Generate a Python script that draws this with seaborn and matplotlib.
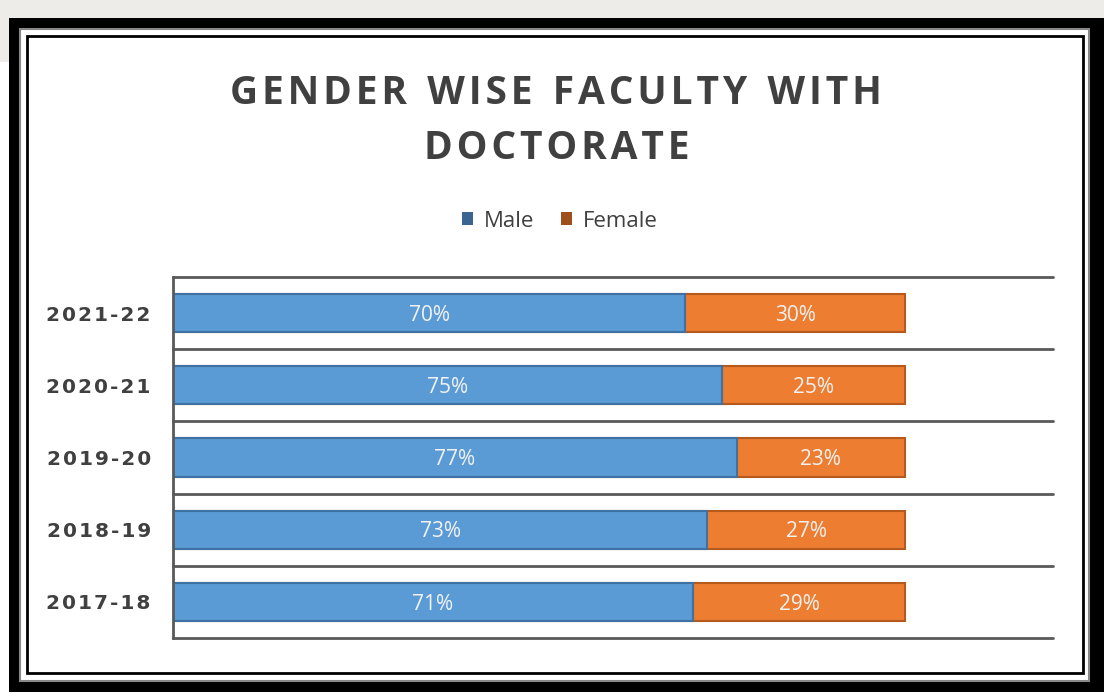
import matplotlib
matplotlib.use('Agg')
import matplotlib.pyplot as plt
import seaborn as sns
import pandas as pd
from matplotlib.patches import Rectangle, Patch

# ── Data ────────────────────────────────────────────────────────────────────
years  = ['2021-22', '2020-21', '2019-20', '2018-19', '2017-18']
male   = [70, 75, 77, 73, 71]
female = [30, 25, 23, 27, 29]

BLUE, ORANGE = '#5b9bd5', '#ed7d31'
W, H = 1104, 697
HAIR = '\u200a'

df = pd.DataFrame({'year': years, 'male': male, 'female': female})
df['total'] = df['male'] + df['female']

sns.set_theme(style='white')
plt.rcParams['font.family'] = ['Open Sans', 'DejaVu Sans']

fig = plt.figure(figsize=(W / 100, H / 100), dpi=100)


def px_rect(x0, y0, x1, y1, **kw):
    # rectangle given in pixel coords (top-left origin)
    r = Rectangle((x0 / W, 1 - y1 / H), (x1 - x0) / W, (y1 - y0) / H,
                  transform=fig.transFigure, zorder=-10, **kw)
    fig.add_artist(r)


def spaced(s, sep=HAIR):
    return sep.join(s)


# ── Frame ───────────────────────────────────────────────────────────────────
px_rect(0, 0, W, 18, facecolor='#eeece8', edgecolor='none')
px_rect(0, 0, 9, 62, facecolor='#eeece8', edgecolor='none')
px_rect(9, 18, W, 692, facecolor='black', edgecolor='none')
px_rect(20, 29, 1089, 681, facecolor='white', edgecolor='#888888', linewidth=1.5)
px_rect(27, 36, 1083, 673, facecolor='white', edgecolor='black', linewidth=2)

# ── Bars ────────────────────────────────────────────────────────────────────
ax = fig.add_axes([173 / W, 1 - 638 / H, 880 / W, 361 / H])
ax.set_facecolor('none')

sns.barplot(data=df, x='total', y='year', orient='h', color=ORANGE,
            saturation=1, width=0.53, edgecolor='#b5591c', linewidth=1.5, ax=ax)
sns.barplot(data=df, x='male', y='year', orient='h', color=BLUE,
            saturation=1, width=0.53, edgecolor='#3f72a3', linewidth=1.5, ax=ax)

for i, (m, f) in enumerate(zip(male, female)):
    ax.text(m / 2, i + 0.03, f'{m}%', ha='center', va='center',
            color='#f2f2f2', fontsize=15)
    ax.text(m + f / 2, i + 0.03, f'{f}%', ha='center', va='center',
            color='#f2f2f2', fontsize=15)

ax.set_xlim(0, 120.2)
ax.set_ylim(len(years) - 0.5, -0.5)
for b in [i - 0.5 for i in range(len(years) + 1)]:
    ax.axhline(b, color='#595959', linewidth=2, zorder=0, clip_on=False)

ax.set_xticks([])
ax.set_xlabel('')
ax.set_ylabel('')
ax.set_yticks(range(len(years)))
ax.set_yticklabels([spaced(y) for y in years])
ax.tick_params(axis='y', length=0, pad=16)
for lbl in ax.get_yticklabels():
    lbl.set_fontfamily(['DejaVu Sans'])
    lbl.set_fontweight('bold')
    lbl.set_fontsize(14.5)
    lbl.set_color('#404040')

for s in ['top', 'right', 'bottom']:
    ax.spines[s].set_visible(False)
ax.spines['left'].set_color('#595959')
ax.spines['left'].set_linewidth(2)

# ── Title & legend ──────────────────────────────────────────────────────────
title = ('  '.join(spaced(w) for w in ['GENDER', 'WISE', 'FACULTY', 'WITH'])
         + '\n' + spaced('DOCTORATE'))
fig.text(0.504, 1 - 121 / H, title,
         ha='center', va='center', fontsize=28, fontweight='bold',
         color='#404040', linespacing=1.55)

handles = [Patch(facecolor='#3a6590', edgecolor='none', label='Male'),
           Patch(facecolor='#9e4f1c', edgecolor='none', label='Female')]
leg = fig.legend(handles=handles, loc='center', ncol=2,
                 bbox_to_anchor=(0.507, 1 - 221 / H), frameon=False,
                 fontsize=16, handlelength=0.5, handleheight=0.5,
                 handletextpad=0.5, columnspacing=1.2)
for t in leg.get_texts():
    t.set_color('#404040')

fig.savefig('out.png', dpi=100)
